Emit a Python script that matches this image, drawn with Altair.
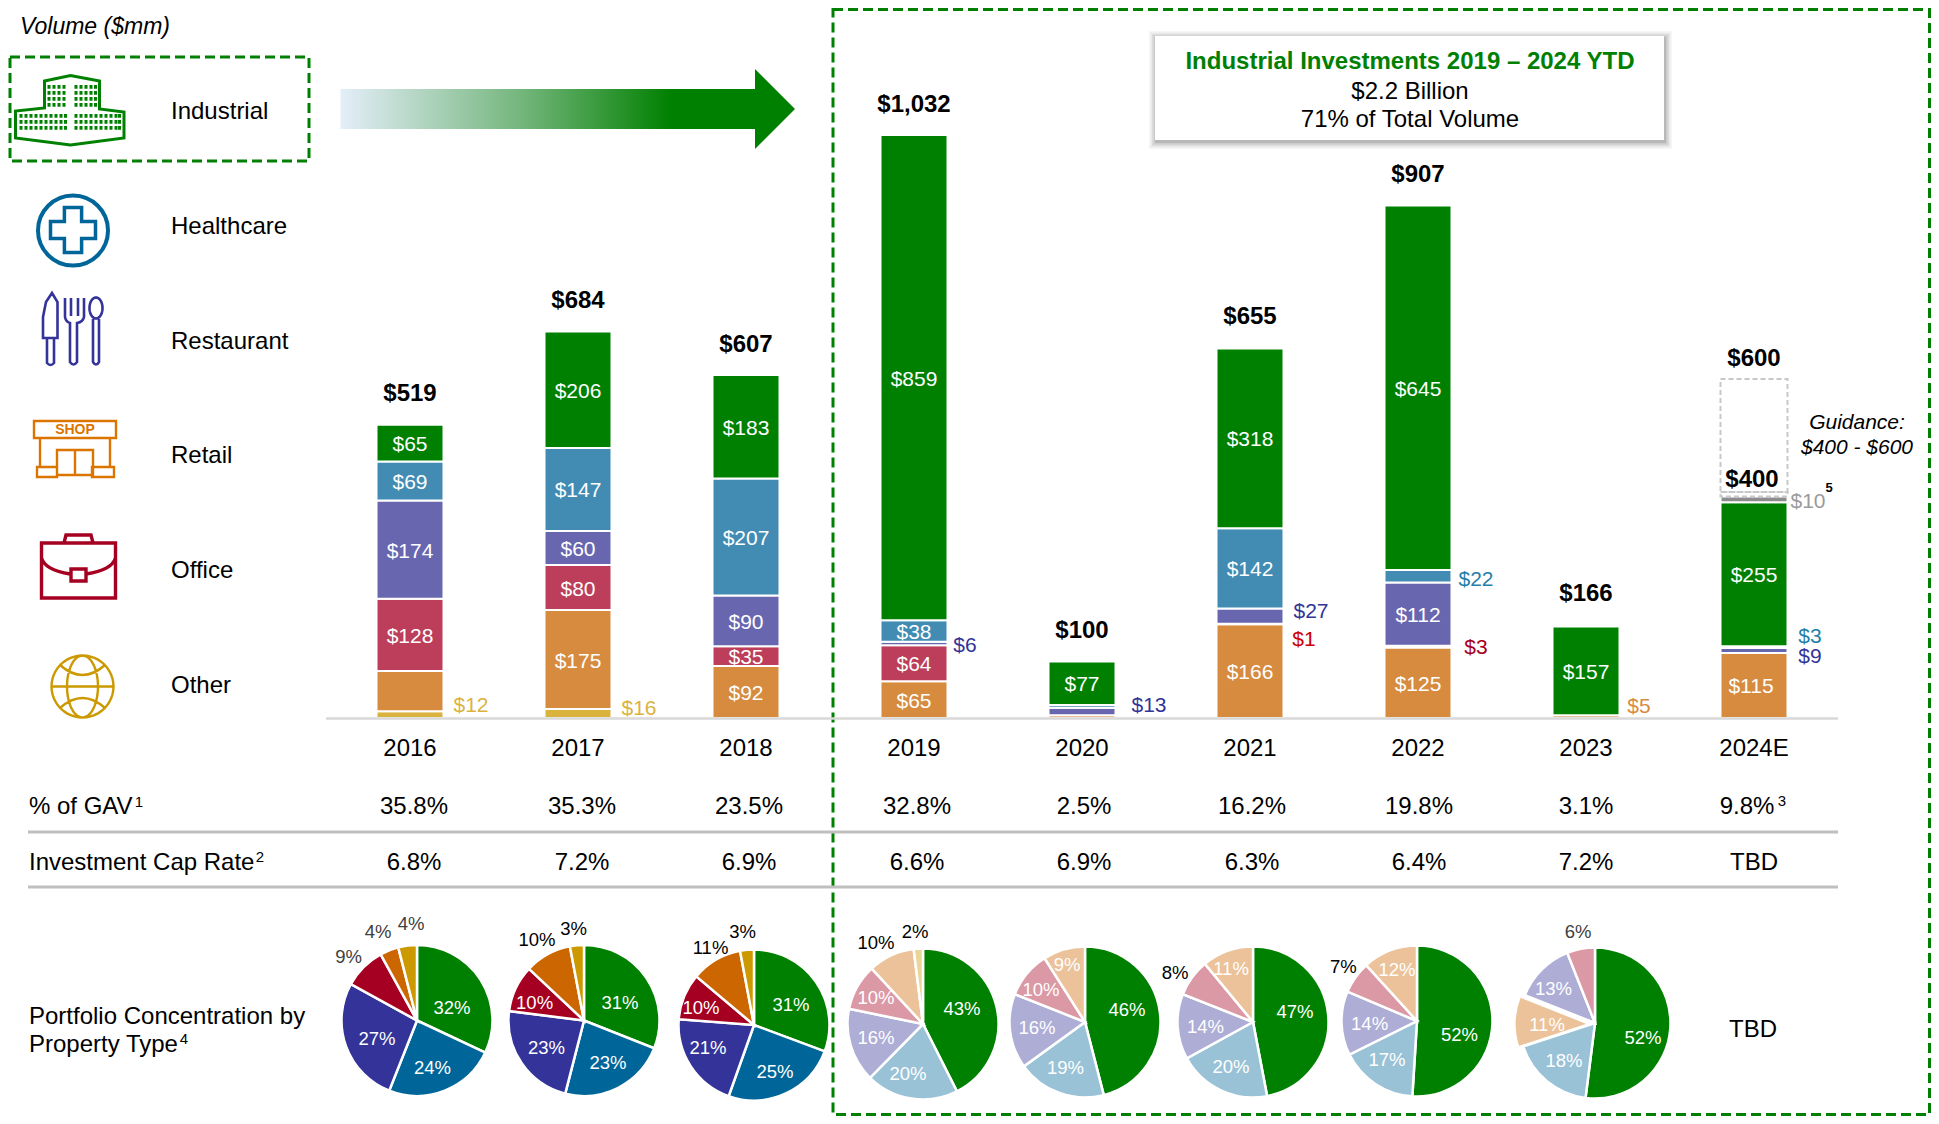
import altair as alt
import pandas as pd
import math

# ---------- values ----------
YEARS = ["2016", "2017", "2018", "2019", "2020", "2021", "2022", "2023", "2024E"]
INDUSTRIAL = [65, 206, 183, 859, 77, 318, 645, 157, 255]
HEALTHCARE = [69, 147, 207, 38, 5, 142, 22, 0, 3]
RESTAURANT = [174, 60, 90, 6, 13, 27, 112, 0, 9]
OFFICE = [128, 80, 35, 64, 0, 1, 3, 0, 0]
RETAIL = [71, 175, 92, 65, 5, 166, 125, 5, 115]
OTHER = [12, 16, 0, 0, 0, 0, 0, 0, 0]
UNSPECIFIED = [0, 0, 0, 0, 0, 0, 0, 0, 10]
TOTALS = [519, 684, 607, 1032, 100, 655, 907, 166, 600]
GUIDANCE_LOW = 400
GUIDANCE_HIGH = 600
GAV = ["35.8%", "35.3%", "23.5%", "32.8%", "2.5%", "16.2%", "19.8%", "3.1%", "9.8%"]
CAP = ["6.8%", "7.2%", "6.9%", "6.6%", "6.9%", "6.3%", "6.4%", "7.2%", "TBD"]
PROPERTY = ["Industrial", "Healthcare", "Restaurant", "Retail", "Office", "Other"]
STANDARD_ORDER = ["Industrial", "Healthcare", "Restaurant", "Office", "Retail", "Other"]
PIE_SHARES = {
    "2016": [32, 24, 27, 9, 4, 4],
    "2017": [31, 23, 23, 10, 10, 3],
    "2018": [31, 25, 21, 10, 11, 3],
    "2019": [43, 20, 16, 10, 10, 2],
    "2020": [46, 19, 16, 10, 9],
    "2021": [47, 20, 14, 8, 11],
    "2022": [52, 17, 14, 7, 12],
}
PIE_2023_ORDER = ["Industrial", "Healthcare", "Retail", "Restaurant", "Office"]
PIE_2023_SHARES = [52, 18, 11, 13, 6]

# ---------- styles and layout ----------
W, H = 1923, 1108
FONT = "Liberation Sans"
GREEN = "#008000"
SEGS = ["Other", "Retail", "Office", "Restaurant", "Healthcare", "Industrial", "Unspecified"]
BAR_COLORS = ["#DAB33F", "#D78B3F", "#BC3E5A", "#6966B0", "#428CB4", "#008000", "#8C8C8C"]
PIE_CATS = ["Industrial", "Healthcare", "Restaurant", "Office", "Retail", "Other"]
PIE_DARK = ["#008000", "#006699", "#333399", "#A50021", "#CC6600", "#CC9900"]
PIE_LIGHT = ["#008000", "#99C2D6", "#ADADD6", "#DB99A6", "#EBC299", "#EBD699"]
TEXT_SHIFT = 2

XS = alt.Scale(type="point", domain=YEARS, range=[410 - 8, 1754 - 8], padding=0)
YS = alt.Scale(domain=[0, 1032], range=[718 - 8, 135 - 8], nice=False, zero=False)
X = alt.X("year:N", scale=XS, axis=None)
ONE = alt.Data(values=[{"a": 1}])
layers = []


def vx(x):
    return alt.value(x - 8)


def vy(y):
    return alt.value(y - 8)


def txt(text, x, y, size=24, color="#000000", weight="normal", style="normal", align="center"):
    return alt.Chart(ONE).mark_text(
        text=text, font=FONT, fontSize=size, color=color, fontWeight=weight, fontStyle=style,
        align=align, baseline="middle",
    ).encode(x=vx(x), y=vy(y + TEXT_SHIFT))


def year_txt(year, text, y, size=24, dx=0, color="#000000", weight="normal"):
    df = pd.DataFrame({"year": [year], "label": [text]})
    return alt.Chart(df).mark_text(
        font=FONT, fontSize=size, color=color, fontWeight=weight, baseline="middle", dx=dx,
    ).encode(x=X, y=vy(y + TEXT_SHIFT), text="label:N")


def box(x0, y0, x1, y1, **kw):
    return alt.Chart(ONE).mark_rect(**kw).encode(x=vx(x0), x2=vx(x1), y=vy(y0), y2=vy(y1))


def hline(x0, x1, y, color, width):
    return alt.Chart(ONE).mark_rule(color=color, strokeWidth=width).encode(x=vx(x0), x2=vx(x1), y=vy(y))


def icon(cmds, cx, cy, d, color, width=3.0, filled=False):
    s = d / 2
    parts = []
    for c in cmds:
        nums = c[1:]
        out = []
        for i in range(0, len(nums), 2):
            out.append(f"{(nums[i] - cx) / s:.4f} {(nums[i + 1] - cy) / s:.4f}")
        parts.append(c[0] + " ".join(out))
    path = " ".join(parts)
    if filled:
        mark = alt.Chart(ONE).mark_point(shape=path, size=d * d, filled=True, color=color, opacity=1, strokeWidth=0)
    else:
        mark = alt.Chart(ONE).mark_point(shape=path, size=d * d, filled=False, color=color, opacity=1, strokeWidth=width)
    return mark.encode(x=vx(cx), y=vy(cy))


def poly(points):
    cmds = [("M", *points[0])] + [("L", *p) for p in points[1:]] + [("Z",)]
    return cmds


def rect_path(x0, y0, x1, y1):
    return poly([(x0, y0), (x1, y0), (x1, y1), (x0, y1)])


def ellipse(cx, cy, rx, ry, n=48):
    pts = [(cx + rx * math.cos(2 * math.pi * i / n), cy + ry * math.sin(2 * math.pi * i / n)) for i in range(n)]
    return poly(pts)


# ---------- frames and arrow ----------
layers.append(box(833, 9.5, 1929.5, 1114.5, fillOpacity=0, stroke=GREEN, strokeWidth=3, strokeDash=[10, 5]))
layers.append(box(10, 57, 309, 161, fillOpacity=0, stroke=GREEN, strokeWidth=3, strokeDash=[10, 5]))
layers.append(box(340.5, 89, 755, 129, fill=alt.LinearGradient(
    gradient="linear", x1=0, x2=1, y1=0, y2=0,
    stops=[alt.GradientStop(color="#E4EEF9", offset=0), alt.GradientStop(color="#70B478", offset=0.45),
           alt.GradientStop(color=GREEN, offset=0.8), alt.GradientStop(color=GREEN, offset=1)])))
layers.append(icon(poly([(755, 69), (795, 109), (755, 149)]), 775, 109, 80, GREEN, filled=True))

# ---------- callout ----------
for grow, op in [(7, 0.05), (5.5, 0.07), (4, 0.09), (2.5, 0.12), (1, 0.16)]:
    layers.append(box(1155 - grow + 1, 36 - grow + 2, 1664 + grow + 1, 140 + grow + 2,
                      fill="#555555", opacity=op))
layers.append(box(1155, 36, 1664, 140, fill="#FFFFFF"))
layers.append(txt("Industrial Investments 2019 – 2024 YTD", 1410, 60, size=24, color=GREEN, weight="bold"))
layers.append(txt("$2.2 Billion", 1410, 90))
layers.append(txt("71% of Total Volume", 1410, 118))

# ---------- left legend ----------
layers.append(txt("Volume ($mm)", 20, 25, size=23, style="italic", align="left"))
for name, y in zip(PROPERTY, [109.5, 225, 340, 454, 569, 684]):
    layers.append(txt(name, 171, y, align="left"))

# industrial icon
layers.append(icon(poly([(44.5, 81), (70.5, 75.5), (99.5, 81), (99.5, 109), (124, 112), (124, 138),
                         (70.5, 145), (15.5, 138), (15.5, 111), (44.5, 108)]), 70, 110, 110, GREEN, 3))
win = []
for xs, ys in [
    ([47.5, 52.5, 57.5, 62.5, 74.5, 79.5, 84.5, 89.5, 94], [85, 91, 97, 103]),
    ([19.5, 24.5, 29.5, 34.5, 39.5, 44.5, 49.5, 54.5, 59.5, 64, 74.5, 79.5, 84.5, 89.5, 94.5, 99.5, 104.5, 109.5, 114.5, 118],
     [114, 120, 126]),
]:
    for wx in xs:
        for wy in ys:
            win += rect_path(wx, wy, wx + 3, wy + 3.8)
layers.append(icon(win, 70, 110, 110, GREEN, filled=True))

# healthcare icon
layers.append(alt.Chart(ONE).mark_point(shape="circle", size=70 * 70, filled=False, color="#006699",
                                        opacity=1, strokeWidth=4).encode(x=vx(73), y=vy(230.5)))
a, b = 8.6, 22.5
cx0, cy0 = 73, 230
layers.append(icon(poly([(cx0 - a, cy0 - b), (cx0 + a, cy0 - b), (cx0 + a, cy0 - a), (cx0 + b, cy0 - a),
                         (cx0 + b, cy0 + a), (cx0 + a, cy0 + a), (cx0 + a, cy0 + b), (cx0 - a, cy0 + b),
                         (cx0 - a, cy0 + a), (cx0 - b, cy0 + a), (cx0 - b, cy0 - a), (cx0 - a, cy0 - a)]),
                   73, 230, 50, "#006699", 3.5))

# restaurant icon
RC = "#333399"
layers.append(icon(
    poly([(52, 293), (57.5, 302), (57.5, 338), (43, 338), (43, 317), (46, 302)])
    + [("M", 47, 338), ("L", 47, 363), ("Q", 50.5, 367, 54, 363), ("L", 54, 338)]
    + [("M", 65, 298), ("L", 65, 317), ("Q", 66, 322, 70, 323), ("L", 70, 362), ("Q", 73.5, 367, 77, 362),
       ("L", 77, 323), ("Q", 83, 322, 84, 317), ("L", 84, 298), ("M", 71, 298), ("L", 71, 316), ("M", 78, 298),
       ("L", 78, 316)]
    + ellipse(96, 308, 6.5, 10.5)
    + [("M", 93, 319), ("L", 93, 362), ("Q", 96, 367, 99, 362), ("L", 99, 319)],
    73, 329, 74, RC, 2.6))

# retail icon
OC = "#DB7500"
layers.append(icon(
    rect_path(34, 421, 116, 438)
    + [("M", 40, 438), ("L", 40, 467), ("M", 110, 438), ("L", 110, 467)]
    + rect_path(57, 450, 93, 475)
    + [("M", 75, 450), ("L", 75, 475)]
    + rect_path(37, 467, 57, 477) + rect_path(92, 467, 114, 477),
    75, 449, 84, OC, 2.4))
layers.append(txt("SHOP", 75, 428, size=14, color=OC, weight="bold"))

# office icon
MC = "#A50021"
layers.append(icon(
    rect_path(41.5, 543, 115.5, 598)
    + [("M", 64, 543), ("L", 66, 535), ("L", 91, 535), ("L", 93, 543)]
    + [("M", 41.5, 558), ("Q", 45, 570, 70, 574), ("M", 86, 574), ("Q", 112, 570, 115.5, 558)]
    + rect_path(71, 569, 86, 581),
    78, 566, 76, MC, 3.4))

# other icon
YC = "#CC9900"
layers.append(icon(
    ellipse(82.5, 686.5, 31, 31) + ellipse(82.5, 686.5, 15.5, 31)
    + [("M", 52, 686.5), ("L", 113.5, 686.5), ("M", 60, 665), ("Q", 82.5, 685, 105, 665),
       ("M", 60, 708), ("Q", 82.5, 688, 105, 708)],
    82.5, 686.5, 64, YC, 2.4))

# ---------- stacked bars ----------
series = {"Other": OTHER, "Retail": RETAIL, "Office": OFFICE, "Restaurant": RESTAURANT,
          "Healthcare": HEALTHCARE, "Industrial": INDUSTRIAL, "Unspecified": UNSPECIFIED}
rows = []
for i, yr in enumerate(YEARS):
    base = 0
    for rank, seg in enumerate(SEGS):
        v = series[seg][i]
        if v > 0:
            rows.append({"year": yr, "seg": seg, "value": v, "rank": rank, "mid": base + v / 2})
        base += v
bars = pd.DataFrame(rows)
layers.append(alt.Chart(bars).mark_bar(size=67, stroke="#FFFFFF", strokeWidth=2).encode(
    x=X, y=alt.Y("value:Q", scale=YS, axis=None, stack="zero"),
    color=alt.Color("seg:N", scale=alt.Scale(domain=SEGS, range=BAR_COLORS), legend=None),
    order=alt.Order("rank:Q"),
))
labels = bars[(bars["value"] >= 30) & ~((bars["year"] == "2016") & (bars["seg"] == "Retail"))].copy()
labels["label"] = labels["value"].map(lambda v: f"${v}")
labels["shifted"] = labels["year"].eq("2024E") & labels["seg"].eq("Retail")
layers.append(alt.Chart(labels[~labels["shifted"]]).mark_text(
    font=FONT, fontSize=21, color="#FFFFFF", baseline="middle", dy=TEXT_SHIFT).encode(
    x=X, y=alt.Y("mid:Q", scale=YS, axis=None), text="label:N"))
layers.append(alt.Chart(labels[labels["shifted"]]).mark_text(
    font=FONT, fontSize=21, color="#FFFFFF", baseline="middle", dy=TEXT_SHIFT - 1, dx=-3).encode(
    x=X, y=alt.Y("mid:Q", scale=YS, axis=None), text="label:N"))

# guidance box
guide = pd.DataFrame({"year": ["2024E", "2024E"], "lo": [GUIDANCE_LOW, 392], "hi": [GUIDANCE_HIGH, GUIDANCE_LOW]})
layers.append(alt.Chart(guide).mark_bar(size=67, fillOpacity=0, stroke="#C8C8C8", strokeWidth=2,
                                        strokeDash=[5, 3]).encode(
    x=X, y=alt.Y("lo:Q", scale=YS, axis=None), y2="hi:Q"))

# totals
tot = pd.DataFrame({"year": YEARS, "total": TOTALS})
tot["label"] = tot["total"].map(lambda v: f"${v:,}")
main_tot = tot[tot["year"] != "2024E"]
layers.append(alt.Chart(main_tot).mark_text(font=FONT, fontSize=24, fontWeight="bold", dy=-30.5, baseline="middle").encode(
    x=X, y=alt.Y("total:Q", scale=YS, axis=None), text="label:N"))
layers.append(alt.Chart(pd.DataFrame({"year": ["2024E"], "total": [GUIDANCE_HIGH], "label": ["$600"]})).mark_text(
    font=FONT, fontSize=24, fontWeight="bold", dy=-20, baseline="middle").encode(
    x=X, y=alt.Y("total:Q", scale=YS, axis=None), text="label:N"))
layers.append(alt.Chart(pd.DataFrame({"year": ["2024E"], "total": [GUIDANCE_LOW], "label": ["$400"]})).mark_text(
    font=FONT, fontSize=24, fontWeight="bold", dy=-12.5, dx=-2, baseline="middle").encode(
    x=X, y=alt.Y("total:Q", scale=YS, axis=None), text="label:N"))

# outside labels
for yr, t, dx, y, c in [
    ("2016", "$12", 61, 704, "#DAB33F"), ("2017", "$16", 61, 707, "#DAB33F"),
    ("2019", "$6", 51, 644, "#333399"), ("2020", "$13", 67, 704, "#333399"),
    ("2021", "$27", 61, 610, "#333399"), ("2021", "$1", 54, 638, "#CC0000"),
    ("2022", "$22", 58, 578, "#1F7FAA"), ("2022", "$3", 58, 646, "#A50021"),
    ("2023", "$5", 53, 705, "#D78B3F"), ("2024E", "$10", 54, 500, "#9A9A9A"),
    ("2024E", "$3", 56, 635, "#1F7FAA"), ("2024E", "$9", 56, 655, "#333399"),
]:
    layers.append(year_txt(yr, t, y, size=21, dx=dx, color=c))
layers.append(txt("5", 1829, 486, size=13, weight="bold"))
layers.append(txt("Guidance:", 1857, 421, size=21, style="italic"))
layers.append(txt("$400 - $600", 1857, 446, size=21, style="italic"))

# ---------- table rows ----------
layers.append(hline(326, 1838, 718.5, "#D9D9D9", 2.5))
layers.append(hline(28, 1838, 832, "#BFBFBF", 2.8))
layers.append(hline(28, 1838, 887, "#BFBFBF", 2.8))
ROW_DX = [4, 4, 3, 3, 2, 2, 1, 0, -7]
CAP_DX = [4, 4, 3, 3, 2, 2, 1, 0, 0]
for yr, g, c, d, e in zip(YEARS, GAV, CAP, ROW_DX, CAP_DX):
    layers.append(year_txt(yr, yr, 747))
    layers.append(year_txt(yr, g, 805, dx=d))
    layers.append(year_txt(yr, c, 861, dx=e))
layers.append(txt("% of GAV", 29, 805, align="left"))
layers.append(txt("1", 139, 800, size=15, align="center"))
layers.append(txt("3", 1782, 799, size=15, align="center"))
layers.append(txt("Investment Cap Rate", 29, 861, align="left"))
layers.append(txt("2", 260, 855, size=15, align="center"))
layers.append(txt("Portfolio Concentration by", 29, 1015, align="left"))
layers.append(txt("Property Type", 29, 1043, align="left"))
layers.append(txt("4", 184, 1037, size=15, align="center"))
layers.append(txt("TBD", 1753, 1028))


# ---------- pies ----------
def pie_frame(year, cats, shares):
    total = sum(shares)
    rows = []
    run = 0
    for cat, s in zip(cats, shares):
        rows.append({"year": year, "cat": cat, "start": run / total, "end": (run + s) / total})
        run += s
    return pd.DataFrame(rows)


def pie_layer(df, cy, x_off, palette):
    return alt.Chart(df).mark_arc(radius=75.5, stroke="#FFFFFF", strokeWidth=2.5, xOffset=x_off).encode(
        x=X, y=vy(cy),
        theta=alt.Theta("start:Q", scale=alt.Scale(domain=[0, 1]), stack=False),
        theta2="end:Q",
        color=alt.Color("cat:N", scale=alt.Scale(domain=PIE_CATS, range=palette), legend=None),
    )


PIE_POS = {"2016": (7, 1020.5), "2017": (6, 1020.5), "2018": (8, 1025), "2019": (9, 1024),
           "2020": (3, 1022), "2021": (3, 1022), "2022": (-1, 1021)}
for yr, shares in PIE_SHARES.items():
    off, cy = PIE_POS[yr]
    palette = PIE_DARK if yr in ("2016", "2017", "2018") else PIE_LIGHT
    layers.append(pie_layer(pie_frame(yr, STANDARD_ORDER, shares), cy, off, palette))
df23 = pie_frame("2023", PIE_2023_ORDER, PIE_2023_SHARES)
layers.append(pie_layer(df23[df23["cat"] != "Retail"], 1023, 9, PIE_LIGHT))
layers.append(pie_layer(df23[df23["cat"] == "Retail"], 1024, 4, PIE_LIGHT))

GRAY = "#404040"
WHITE = "#FFFFFF"
BLACK = "#000000"
PIE_LABEL_POS = {
    "2016": [(452, 1006, WHITE), (432.5, 1066, WHITE), (377, 1037, WHITE), (348.5, 955, GRAY), (378, 930, GRAY), (411, 922, GRAY)],
    "2017": [(620, 1001, WHITE), (608, 1061, WHITE), (546.5, 1046, WHITE), (534.6, 1001, WHITE), (537, 938, BLACK), (573.6, 927, BLACK)],
    "2018": [(791, 1003, WHITE), (775, 1070, WHITE), (708, 1046, WHITE), (701, 1006, WHITE), (710.5, 946, BLACK), (742.5, 930, BLACK)],
    "2019": [(962, 1007, WHITE), (908, 1072, WHITE), (876, 1036, WHITE), (876, 996, WHITE), (876, 941, BLACK), (915, 930, BLACK)],
    "2020": [(1127, 1008, WHITE), (1065.5, 1066, WHITE), (1037, 1026, WHITE), (1041, 988, WHITE), (1067, 963, WHITE)],
    "2021": [(1295, 1010, WHITE), (1231, 1065, WHITE), (1205.5, 1025, WHITE), (1175, 971, BLACK), (1231, 967, WHITE)],
    "2022": [(1459.4, 1033, WHITE), (1387, 1058, WHITE), (1369.6, 1022, WHITE), (1343.4, 965, BLACK), (1397, 968, WHITE)],
}
for yr, shares in PIE_SHARES.items():
    for s, (px, py, col) in zip(shares, PIE_LABEL_POS[yr]):
        layers.append(txt(f"{s}%", px, py, size=18.5, color=col))
for s, (px, py, col) in zip(PIE_2023_SHARES, [(1643, 1036, WHITE), (1564, 1059, WHITE), (1547, 1023, WHITE),
                                             (1553.5, 987, WHITE), (1578, 930, GRAY)]):
    layers.append(txt(f"{s}%", px, py, size=18.5, color=col))

chart = (
    alt.layer(*layers)
    .resolve_scale(color="independent")
    .properties(width=W, height=H, padding=0, autosize=alt.AutoSizeParams(type="none"), background="#FFFFFF")
    .configure_view(strokeWidth=0)
)
chart.save("out.html", embed_options={"renderer": "svg", "actions": False})
